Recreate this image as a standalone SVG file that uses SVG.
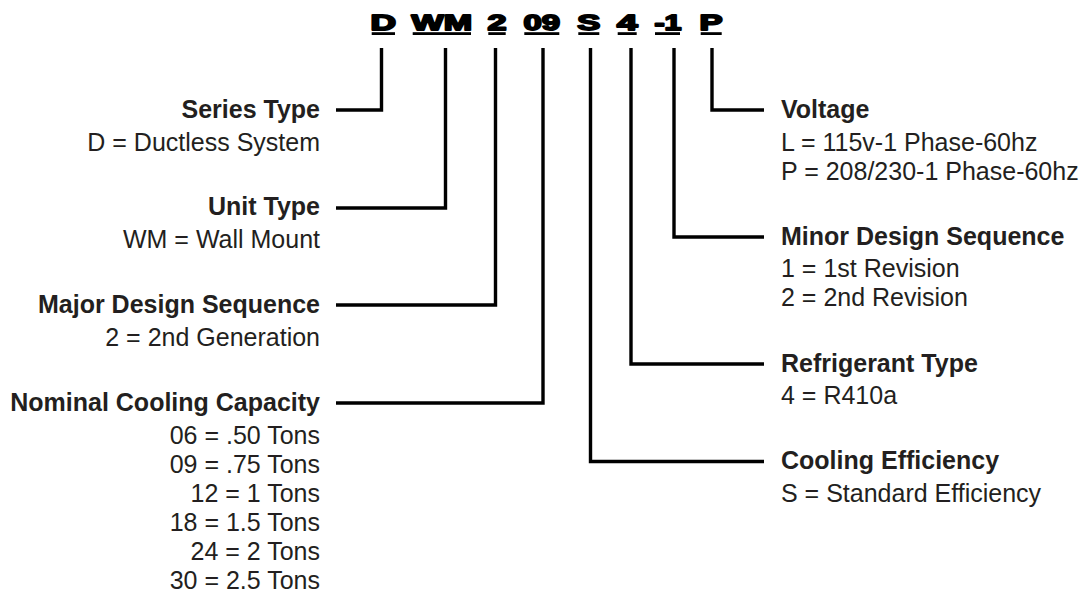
<svg xmlns="http://www.w3.org/2000/svg" width="1088" height="604" viewBox="0 0 1088 604">
<style>
.code{font-family:"Liberation Sans",Arial,sans-serif;font-weight:bold;font-size:22px;fill:#000;stroke:#000;stroke-width:1.8px;stroke-linejoin:round}
.ul{fill:#000}
.h{font-family:"Liberation Sans",Arial,sans-serif;font-weight:bold;font-size:25px;fill:#231f20}
.d{font-family:"Liberation Sans",Arial,sans-serif;font-size:25px;fill:#231f20}
.l{text-anchor:end}
.conn{fill:none;stroke:#000;stroke-width:3.4;stroke-linejoin:miter;stroke-linecap:butt}
</style>
<rect width="1088" height="604" fill="#fff"/>
<g id="code">
<text class="code" x="370.5" y="29.5" textLength="25.5" lengthAdjust="spacingAndGlyphs">D</text>
<rect class="ul" x="371.7" y="32.2" width="23.3" height="2.8"/>
<text class="code" x="411.5" y="29.5" textLength="60.5" lengthAdjust="spacingAndGlyphs">WM</text>
<rect class="ul" x="412.7" y="32.2" width="58.3" height="2.8"/>
<text class="code" x="487.5" y="29.5" textLength="19" lengthAdjust="spacingAndGlyphs">2</text>
<rect class="ul" x="488.3" y="32.2" width="17.4" height="2.8"/>
<text class="code" x="523.5" y="29.5" textLength="36.5" lengthAdjust="spacingAndGlyphs">09</text>
<rect class="ul" x="524.3" y="32.2" width="35" height="2.8"/>
<text class="code" x="577.3" y="29.5" textLength="23" lengthAdjust="spacingAndGlyphs">S</text>
<rect class="ul" x="578.3" y="32.2" width="21" height="2.8"/>
<text class="code" x="617" y="29.5" textLength="20.5" lengthAdjust="spacingAndGlyphs">4</text>
<rect class="ul" x="617.7" y="32.2" width="19" height="2.8"/>
<text class="code" x="654.5" y="29.5" textLength="27" lengthAdjust="spacingAndGlyphs">-1</text>
<rect class="ul" x="655" y="32.2" width="25" height="2.8"/>
<text class="code" x="699.5" y="29.5" textLength="23" lengthAdjust="spacingAndGlyphs">P</text>
<rect class="ul" x="700.7" y="32.2" width="21" height="2.8"/>
</g>
<g id="connectors">
<path class="conn" d="M381.5,48 V110 H336"/>
<path class="conn" d="M445.5,48 V208 H336"/>
<path class="conn" d="M495.5,48 V305 H336"/>
<path class="conn" d="M543,48 V403 H336"/>
<path class="conn" d="M590.5,48 V461.5 H764"/>
<path class="conn" d="M631,48 V364 H764"/>
<path class="conn" d="M674,48 V237 H764"/>
<path class="conn" d="M712,48 V110 H764"/>
</g>
<g id="series-type">
<text class="h l" x="320" y="117.5">Series Type</text>
<text class="d l" x="320" y="150.5">D = Ductless System</text>
</g>
<g id="unit-type">
<text class="h l" x="320" y="215">Unit Type</text>
<text class="d l" x="320" y="248">WM = Wall Mount</text>
</g>
<g id="major-design-sequence">
<text class="h l" x="320" y="312.5">Major Design Sequence</text>
<text class="d l" x="320" y="345.5">2 = 2nd Generation</text>
</g>
<g id="nominal-cooling-capacity">
<text class="h l" x="320" y="410.5">Nominal Cooling Capacity</text>
<text class="d l" x="320" y="443.5">06 = .50 Tons</text>
<text class="d l" x="320" y="472.5">09 = .75 Tons</text>
<text class="d l" x="320" y="501.5">12 = 1 Tons</text>
<text class="d l" x="320" y="530.5">18 = 1.5 Tons</text>
<text class="d l" x="320" y="559.5">24 = 2 Tons</text>
<text class="d l" x="320" y="588.5">30 = 2.5 Tons</text>
</g>
<g id="voltage">
<text class="h" x="781" y="117.5">Voltage</text>
<text class="d" x="781" y="150.5">L = 115v-1 Phase-60hz</text>
<text class="d" x="781" y="179.5">P = 208/230-1 Phase-60hz</text>
</g>
<g id="minor-design-sequence">
<text class="h" x="781" y="244.5">Minor Design Sequence</text>
<text class="d" x="781" y="277">1 = 1st Revision</text>
<text class="d" x="781" y="306">2 = 2nd Revision</text>
</g>
<g id="refrigerant-type">
<text class="h" x="781" y="371.5">Refrigerant Type</text>
<text class="d" x="781" y="404">4 = R410a</text>
</g>
<g id="cooling-efficiency">
<text class="h" x="781" y="469">Cooling Efficiency</text>
<text class="d" x="781" y="501.5">S = Standard Efficiency</text>
</g>
</svg>
